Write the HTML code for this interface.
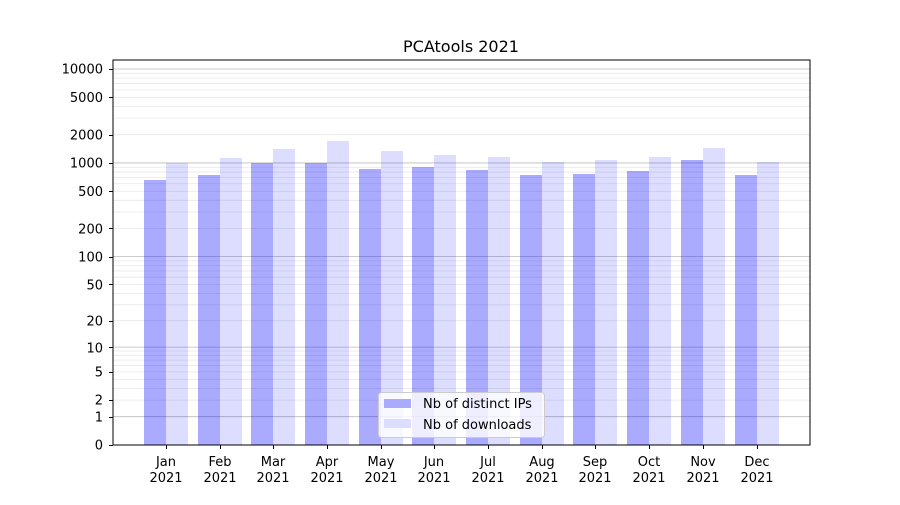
<!DOCTYPE html>
<html><head><meta charset="utf-8"><style>
html,body{margin:0;padding:0;background:#fff}
svg text{font-family:"DejaVu Sans","Liberation Sans",sans-serif;fill:#000}
</style></head><body>
<svg id="s" width="900" height="500" viewBox="0 0 900 500" xmlns="http://www.w3.org/2000/svg">
<rect width="900" height="500" fill="#fff"/>
<g id="grid"></g>
<g id="bars"></g>
<rect x="113" y="60" width="697" height="385" fill="none" stroke="#000" stroke-width="1"/>
<g id="ticks" stroke="#000" stroke-width="1"></g>
<text x="461" y="52" font-size="16" text-anchor="middle">PCAtools 2021</text>
<g font-size="13" text-anchor="end">
<text x="103" y="449.5">0</text>
<text x="103" y="421.5">1</text>
<text x="103" y="404.5">2</text>
<text x="103" y="376.5">5</text>
<text x="103" y="352.5">10</text>
<text x="103" y="325.5">20</text>
<text x="103" y="289.5">50</text>
<text x="103" y="261.5">100</text>
<text x="103" y="233.5">200</text>
<text x="103" y="196">500</text>
<text x="103" y="167.5">1000</text>
<text x="103" y="139.5">2000</text>
<text x="103" y="102">5000</text>
<text x="103" y="73.5">10000</text>
</g>
<g font-size="13" text-anchor="middle">
<text x="166" y="466">Jan</text><text x="166" y="482">2021</text>
<text x="220" y="466">Feb</text><text x="220" y="482">2021</text>
<text x="273" y="466">Mar</text><text x="273" y="482">2021</text>
<text x="327" y="466">Apr</text><text x="327" y="482">2021</text>
<text x="381" y="466">May</text><text x="381" y="482">2021</text>
<text x="434" y="466">Jun</text><text x="434" y="482">2021</text>
<text x="488" y="466">Jul</text><text x="488" y="482">2021</text>
<text x="542" y="466">Aug</text><text x="542" y="482">2021</text>
<text x="595" y="466">Sep</text><text x="595" y="482">2021</text>
<text x="649" y="466">Oct</text><text x="649" y="482">2021</text>
<text x="703" y="466">Nov</text><text x="703" y="482">2021</text>
<text x="757" y="466">Dec</text><text x="757" y="482">2021</text>
</g>
<rect x="378.5" y="392.5" width="166" height="45" rx="3" fill="#fff" fill-opacity="0.8" stroke="#ccc"/>
<rect x="384" y="399" width="27" height="9" fill="#aaaaff"/>
<rect x="384" y="419" width="27" height="9" fill="#ddddff"/>
<g font-size="13"><text x="423" y="408">Nb of distinct IPs</text><text x="423" y="429">Nb of downloads</text></g>
</svg>
<script>
var NS="http://www.w3.org/2000/svg";
function y(v){return 445-94*Math.log10(1+v);}
function el(p,t,a){var e=document.createElementNS(NS,t);for(var k in a)e.setAttribute(k,a[k]);p.appendChild(e);}
var g=document.getElementById('grid'),b=document.getElementById('bars'),tk=document.getElementById('ticks');
for(var d=1;d<=1000;d*=10){for(var m=2;m<=9;m++){var yy=y(m*d);el(g,'line',{x1:113,x2:810,y1:yy,y2:yy,stroke:'#e8e8e8','stroke-width':0.8});}}
[1,10,100,1000,10000].forEach(function(v){var yy=y(v);el(g,'line',{x1:113,x2:810,y1:yy,y2:yy,stroke:'#bbb','stroke-width':0.8});});
[0,1,2,5,10,20,50,100,200,500,1000,2000,5000,10000].forEach(function(v){var yy=Math.round(y(v))+0.5;el(tk,'line',{x1:109,x2:113,y1:yy,y2:yy});});
var c=[166,220,273,327,381,434,488,542,595,649,703,757];
var ip=[180,175,163,163,169,167,170,175,174,171,160,175];
var dl=[163,158,149,141,151,155,157,162,160,157,148,162];
c.forEach(function(x,i){
el(b,'rect',{x:x-22,y:ip[i],width:22,height:445-ip[i],fill:'#0000ff','fill-opacity':0.333});
el(b,'rect',{x:x,y:dl[i],width:22,height:445-dl[i],fill:'#0000ff','fill-opacity':0.133});
el(tk,'line',{x1:x+0.5,x2:x+0.5,y1:445,y2:449});
});
</script>
</body></html>
